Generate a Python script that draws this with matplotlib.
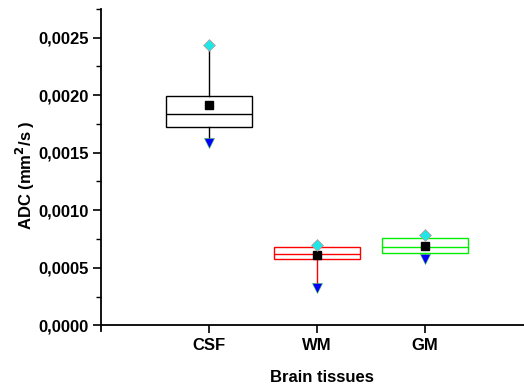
import matplotlib
matplotlib.use("Agg")
import matplotlib.pyplot as plt
from matplotlib.ticker import MultipleLocator, FuncFormatter

categories = ["CSF", "WM", "GM"]
q1 = [0.001728, 0.000580, 0.000629]
median = [0.001835, 0.000620, 0.000678]
q3 = [0.001997, 0.000681, 0.000759]
mean = [0.001916, 0.000609, 0.000690]
maximum = [0.002437, 0.000698, 0.000789]
minimum = [0.001589, 0.000322, 0.000574]
colors = ["black", "red", "#00ee00"]

plt.rcParams["font.family"] = ["Liberation Sans", "DejaVu Sans"]
plt.rcParams["font.weight"] = "bold"

fig = plt.figure(figsize=(5.24, 3.90), dpi=100)
ax = fig.add_axes([101 / 524, (390 - 331) / 390, 432 / 524, (331 - 9) / 390])

positions = [1, 2, 3]
for i, pos in enumerate(positions):
    stats = [dict(q1=q1[i], med=median[i], q3=q3[i],
                  whislo=minimum[i], whishi=maximum[i])]
    c = colors[i]
    ax.bxp(stats, positions=[pos], widths=0.8, showfliers=False,
           showcaps=False, patch_artist=True,
           boxprops=dict(facecolor="white", edgecolor=c, linewidth=1.0),
           medianprops=dict(color=c, linewidth=1.0),
           whiskerprops=dict(color=c, linewidth=1.0))
    ax.plot(pos, mean[i], marker="s", color="black", markersize=5.5,
            linestyle="none", zorder=5)
    ax.plot(pos, maximum[i], marker="D", markerfacecolor="#22e5e5",
            markeredgecolor="#e08080", markeredgewidth=0.4, markersize=6,
            linestyle="none", zorder=5)
    ax.plot(pos, minimum[i], marker="v", markerfacecolor="#0000ff",
            markeredgecolor="#40c040", markeredgewidth=0.4, markersize=7,
            linestyle="none", zorder=5)

ax.set_xlim(0, 4)
ax.set_ylim(-0.00005, 0.00275)
ax.spines["bottom"].set_position(("data", 0))
ax.spines["top"].set_visible(False)
ax.spines["right"].set_visible(False)
for s in ("left", "bottom"):
    ax.spines[s].set_linewidth(1.3)

ax.set_xticks(positions)
ax.set_xticklabels(categories, fontsize=12, fontweight="bold")
ax.yaxis.set_major_locator(MultipleLocator(0.0005))
ax.yaxis.set_minor_locator(MultipleLocator(0.00025))
ax.yaxis.set_major_formatter(FuncFormatter(
    lambda v, p: f"{abs(v):.4f}".replace(".", ",")))
ax.set_yticks([0, 0.0005, 0.0010, 0.0015, 0.0020, 0.0025])
for lab in ax.get_yticklabels():
    lab.set_fontsize(12)
    lab.set_fontweight("bold")
ax.tick_params(axis="both", which="major", direction="out", length=6,
               width=1.2, pad=3)
ax.tick_params(axis="y", which="minor", direction="out", length=3.5, width=1.0)
ax.tick_params(axis="x", which="minor", bottom=False)

fig.text(322 / 524, 1 - 377 / 390, "Brain tissues", fontsize=12,
         fontweight="bold", ha="center", va="center")
fig.text(25 / 524, 1 - 175 / 390, "ADC (mm$^\\mathbf{2}$/s )", fontsize=12,
         fontweight="bold", ha="center", va="center", rotation=90)

fig.savefig("out.png", dpi=100)
